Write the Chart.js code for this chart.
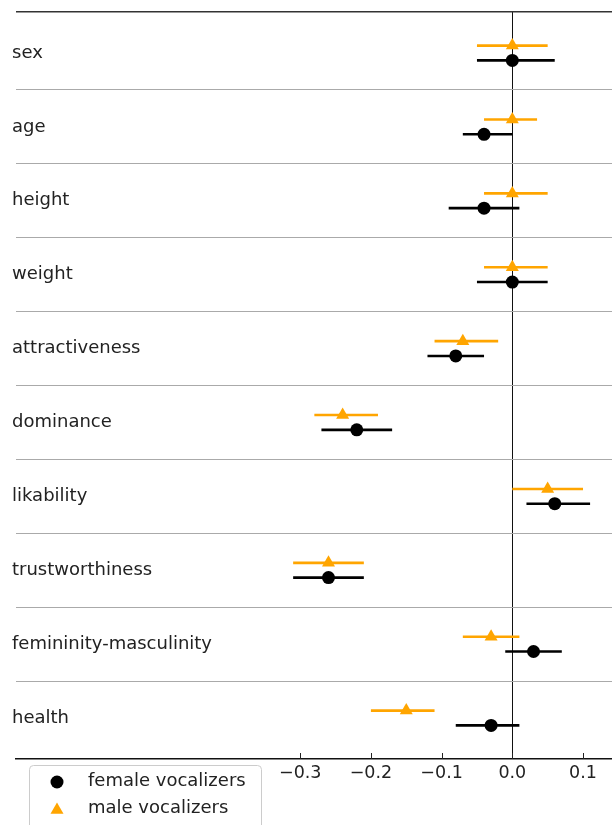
<!DOCTYPE html>
<html>
<head>
<meta charset="utf-8">
<script src="https://cdn.jsdelivr.net/npm/chart.js@4"></script>
<style>
  html, body { margin: 0; padding: 0; background: #fff; overflow: hidden; }
  #wrap { width: 612px; height: 825px; }
</style>
</head>
<body>
<div id="wrap"><canvas id="grafico"></canvas></div>
<script>
// Categorias (de arriba hacia abajo)
const categorias = ['sex', 'age', 'height', 'weight', 'attractiveness', 'dominance',
  'likability', 'trustworthiness', 'femininity-masculinity', 'health'];

// Voces femeninas: estimacion e intervalo
const femeninoEst = [0.0, -0.04, -0.04, 0.0, -0.08, -0.22, 0.06, -0.26, 0.03, -0.03];
const femeninoMin = [-0.05, -0.07, -0.09, -0.05, -0.12, -0.27, 0.02, -0.31, -0.01, -0.08];
const femeninoMax = [0.06, 0.0, 0.01, 0.05, -0.04, -0.17, 0.11, -0.21, 0.07, 0.01];

// Voces masculinas: estimacion e intervalo
const masculinoEst = [0.0, 0.0, 0.0, 0.0, -0.07, -0.24, 0.05, -0.26, -0.03, -0.15];
const masculinoMin = [-0.05, -0.04, -0.04, -0.04, -0.11, -0.28, 0.0, -0.31, -0.07, -0.20];
const masculinoMax = [0.05, 0.035, 0.05, 0.05, -0.02, -0.19, 0.10, -0.21, 0.01, -0.11];

const ticksX = [-0.3, -0.2, -0.1, 0.0, 0.1];
const leyenda = ['female vocalizers', 'male vocalizers'];

const NARANJA = '#FFA500';
const FUENTE = '"DejaVu Sans", sans-serif';
const Y_MIN = -0.555, Y_MAX = 9.555;

function puntos(est, desplazamiento) {
  return est.map((v, i) => ({ x: v, y: i + desplazamiento }));
}

// Una linea por cada intervalo
function barras(min, max, desplazamiento, color) {
  var sets = [];
  for (var i = 0; i < min.length; i++) {
    sets.push({
      type: 'line',
      data: [{ x: min[i], y: i + desplazamiento }, { x: max[i], y: i + desplazamiento }],
      borderColor: color,
      borderWidth: 2.6,
      pointRadius: 0,
      showLine: true,
      order: 2
    });
  }
  return sets;
}

const datasets = [
  {
    label: leyenda[0],
    data: puntos(femeninoEst, 0.1),
    backgroundColor: '#000', borderColor: '#000',
    pointStyle: 'circle', pointRadius: 6.5, borderWidth: 0, order: 1
  },
  {
    label: leyenda[1],
    data: puntos(masculinoEst, -0.1),
    backgroundColor: NARANJA, borderColor: NARANJA,
    pointStyle: 'triangle', pointRadius: 7.5, borderWidth: 0, order: 0
  }
].concat(barras(femeninoMin, femeninoMax, 0.1, '#000'))
 .concat(barras(masculinoMin, masculinoMax, -0.1, NARANJA));

// Etiquetas dentro del area, ticks hacia adentro y leyenda
const extras = {
  id: 'extras',
  afterDraw(chart) {
    const ctx = chart.ctx;
    const area = chart.chartArea;
    const x = chart.scales.x, y = chart.scales.y;
    ctx.save();
    ctx.font = '18px ' + FUENTE;
    ctx.fillStyle = '#222';
    ctx.textBaseline = 'middle';
    ctx.textAlign = 'left';
    categorias.forEach((c, i) => ctx.fillText(c, 12, y.getPixelForValue(i)));

    ctx.strokeStyle = '#222';
    ctx.lineWidth = 1;
    x.ticks.forEach(t => {
      var px = Math.round(x.getPixelForValue(t.value)) + 0.5;
      ctx.beginPath();
      ctx.moveTo(px, area.bottom - 6);
      ctx.lineTo(px, area.bottom);
      ctx.stroke();
    });

    // leyenda
    ctx.fillStyle = 'rgba(255,255,255,0.85)';
    ctx.strokeStyle = '#ccc';
    ctx.beginPath();
    ctx.roundRect(29.5, 765.5, 232, 70, 4);
    ctx.fill();
    ctx.stroke();
    ctx.fillStyle = '#000';
    Chart.helpers.drawPoint(ctx, { pointStyle: 'circle', radius: 6.5, borderWidth: 0 }, 57, 782);
    ctx.fillStyle = NARANJA;
    Chart.helpers.drawPoint(ctx, { pointStyle: 'triangle', radius: 7.5, borderWidth: 0 }, 57, 810);
    ctx.fillStyle = '#222';
    ctx.fillText(leyenda[0], 88, 781);
    ctx.fillText(leyenda[1], 88, 808);
    ctx.restore();
  }
};

new Chart(document.getElementById('grafico'), {
  type: 'scatter',
  data: { datasets: datasets },
  plugins: [extras],
  options: {
    responsive: true,
    maintainAspectRatio: false,
    animation: false,
    // sin padding automatico para que el area llegue al borde derecho
    layout: { autoPadding: false, padding: { top: 12, left: 0, right: 0, bottom: 0 } },
    plugins: { legend: { display: false }, tooltip: { enabled: false } },
    scales: {
      x: {
        type: 'linear',
        min: -0.702,
        max: 0.141,
        afterBuildTicks: s => { s.ticks = ticksX.map(v => ({ value: v })); },
        afterFit: s => {
          s.height = 66;
          s.paddingLeft = 0;
          s.paddingRight = 0;
        },
        border: { display: true, color: '#111', width: 1.5 },
        grid: {
          drawTicks: false,
          color: c => (c.tick && c.tick.value === 0 ? '#111' : 'rgba(0,0,0,0)'),
          lineWidth: 1
        },
        ticks: {
          padding: 4,
          color: '#222',
          font: { family: FUENTE, size: 17.5 },
          callback: v => (v < 0 ? '\u2212' : '') + Math.abs(v).toFixed(1)
        }
      },
      y: {
        type: 'linear',
        reverse: true,
        min: Y_MIN,
        max: Y_MAX,
        afterBuildTicks: s => {
          var t = [{ value: Y_MIN }];
          for (var i = 0; i < categorias.length - 1; i++) t.push({ value: i + 0.5 });
          s.ticks = t;
        },
        afterFit: s => {
          s.width = 16;
          s.paddingTop = 0;
          s.paddingBottom = 0;
        },
        border: { display: false },
        grid: {
          drawTicks: false,
          color: c => (c.tick && c.tick.value === Y_MIN ? '#333' : '#aaa'),
          lineWidth: c => (c.tick && c.tick.value === Y_MIN ? 1.5 : 1)
        },
        ticks: { display: false }
      }
    }
  }
});
</script>
</body>
</html>
